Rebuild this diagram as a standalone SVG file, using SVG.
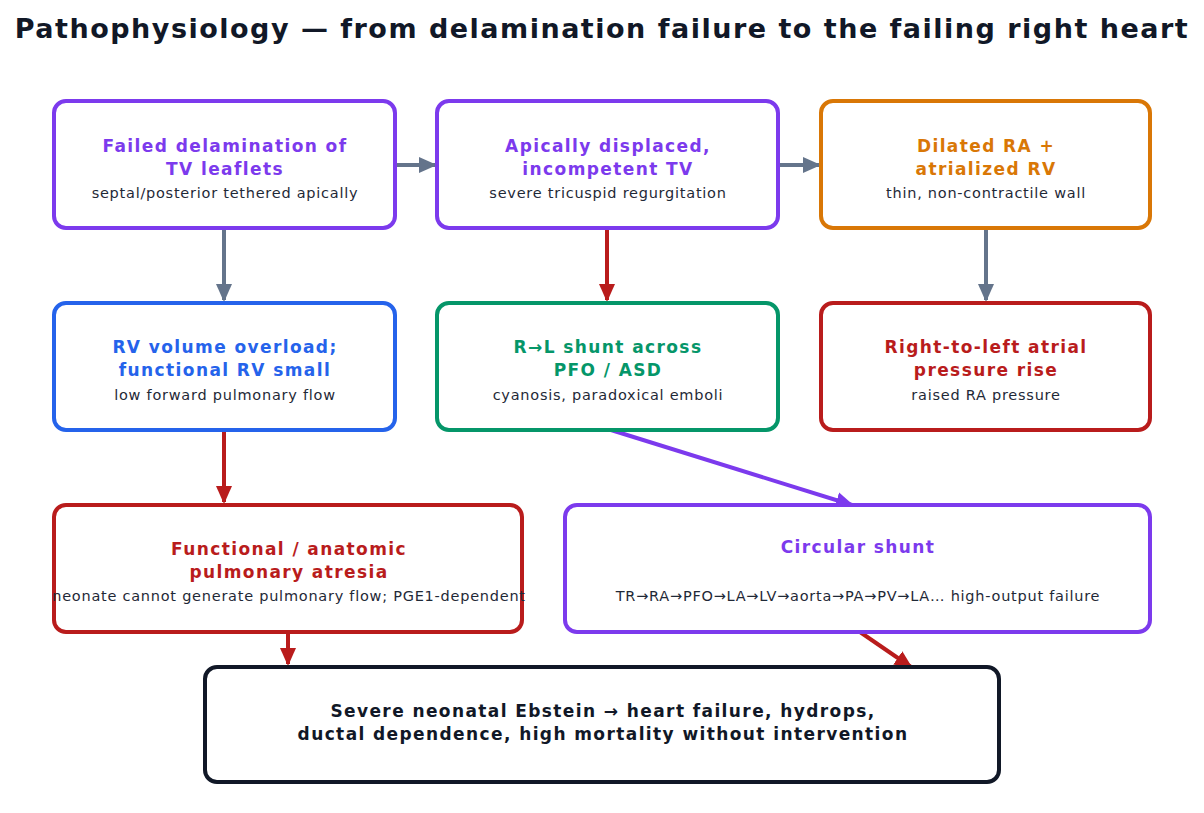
<svg xmlns="http://www.w3.org/2000/svg" width="1204" height="813" viewBox="0 0 1204 813">
  <style>
    .box { fill: #ffffff; stroke-width: 4; }
    .t { font-family: "DejaVu Sans", "Liberation Sans", sans-serif; font-weight: bold; font-size: 17px; letter-spacing: 1.4px; text-anchor: middle; }
    .s { font-family: "DejaVu Sans", "Liberation Sans", sans-serif; font-size: 14.5px; letter-spacing: 0.75px; fill: #1f2937; text-anchor: middle; }
    .title { font-family: "DejaVu Sans", "Liberation Sans", sans-serif; font-weight: bold; font-size: 27px; letter-spacing: 1.5px; fill: #111827; text-anchor: middle; }
    .c { fill: none; stroke-width: 4; }
    .gray { stroke: #64748b; }
    .red { stroke: #b91c1c; }
    .purple { stroke: #7c3aed; }
  </style>
  <defs>
    <marker id="ah-gray" markerUnits="userSpaceOnUse" markerWidth="18" markerHeight="18" refX="16" refY="9" orient="auto">
      <path d="M0,1 L18,9 L0,17 Z" fill="#64748b"/>
    </marker>
    <marker id="ah-red" markerUnits="userSpaceOnUse" markerWidth="18" markerHeight="18" refX="16" refY="9" orient="auto">
      <path d="M0,1 L18,9 L0,17 Z" fill="#b91c1c"/>
    </marker>
    <marker id="ah-purple" markerUnits="userSpaceOnUse" markerWidth="18" markerHeight="18" refX="16" refY="9" orient="auto">
      <path d="M0,1 L18,9 L0,17 Z" fill="#7c3aed"/>
    </marker>
  </defs>

  <rect width="1204" height="813" fill="#ffffff"/>
  <text class="title" x="602" y="38">Pathophysiology — from delamination failure to the failing right heart</text>

  <!-- connectors -->
  <g id="connectors">
    <line class="c gray" x1="397" y1="165" x2="435" y2="165" marker-end="url(#ah-gray)"/>
    <line class="c gray" x1="780" y1="165" x2="819" y2="165" marker-end="url(#ah-gray)"/>
    <line class="c gray" x1="224" y1="230" x2="224" y2="300" marker-end="url(#ah-gray)"/>
    <line class="c red" x1="607" y1="230" x2="607" y2="300" marker-end="url(#ah-red)"/>
    <line class="c gray" x1="986" y1="230" x2="986" y2="300" marker-end="url(#ah-gray)"/>
    <line class="c red" x1="224" y1="432" x2="224" y2="502" marker-end="url(#ah-red)"/>
    <line class="c purple" x1="611" y1="430" x2="852" y2="505" marker-end="url(#ah-purple)"/>
    <line class="c red" x1="288" y1="634" x2="288" y2="664" marker-end="url(#ah-red)"/>
    <line class="c red" x1="860" y1="632" x2="911" y2="667" marker-end="url(#ah-red)"/>
  </g>

  <g id="n-delamination">
    <rect class="box" x="54" y="101" width="341" height="127" rx="12" stroke="#7c3aed"/>
    <text class="t" x="225" y="152" fill="#7c3aed">Failed delamination of</text>
    <text class="t" x="225" y="175" fill="#7c3aed">TV leaflets</text>
    <text class="s" x="225" y="198">septal/posterior tethered apically</text>
  </g>

  <g id="n-displaced-tv">
    <rect class="box" x="437" y="101" width="341" height="127" rx="12" stroke="#7c3aed"/>
    <text class="t" x="608" y="152" fill="#7c3aed">Apically displaced,</text>
    <text class="t" x="608" y="175" fill="#7c3aed">incompetent TV</text>
    <text class="s" x="608" y="198">severe tricuspid regurgitation</text>
  </g>

  <g id="n-dilated-ra">
    <rect class="box" x="821" y="101" width="329" height="127" rx="12" stroke="#d97706"/>
    <text class="t" x="986" y="152" fill="#d97706">Dilated RA +</text>
    <text class="t" x="986" y="175" fill="#d97706">atrialized RV</text>
    <text class="s" x="986" y="198">thin, non-contractile wall</text>
  </g>

  <g id="n-rv-overload">
    <rect class="box" x="54" y="303" width="341" height="127" rx="12" stroke="#2563eb"/>
    <text class="t" x="225" y="353" fill="#2563eb">RV volume overload;</text>
    <text class="t" x="225" y="376" fill="#2563eb">functional RV small</text>
    <text class="s" x="225" y="400">low forward pulmonary flow</text>
  </g>

  <g id="n-rl-shunt">
    <rect class="box" x="437" y="303" width="341" height="127" rx="12" stroke="#059669"/>
    <text class="t" x="608" y="353" fill="#059669">R→L shunt across</text>
    <text class="t" x="608" y="376" fill="#059669">PFO / ASD</text>
    <text class="s" x="608" y="400">cyanosis, paradoxical emboli</text>
  </g>

  <g id="n-atrial-pressure">
    <rect class="box" x="821" y="303" width="329" height="127" rx="12" stroke="#b91c1c"/>
    <text class="t" x="986" y="353" fill="#b91c1c">Right-to-left atrial</text>
    <text class="t" x="986" y="376" fill="#b91c1c">pressure rise</text>
    <text class="s" x="986" y="400">raised RA pressure</text>
  </g>

  <g id="n-pulmonary-atresia">
    <rect class="box" x="54" y="505" width="468" height="127" rx="12" stroke="#b91c1c"/>
    <text class="t" x="289" y="555" fill="#b91c1c">Functional / anatomic</text>
    <text class="t" x="289" y="578" fill="#b91c1c">pulmonary atresia</text>
    <text class="s" x="289" y="601">neonate cannot generate pulmonary flow; PGE1-dependent</text>
  </g>

  <g id="n-circular-shunt">
    <rect class="box" x="565" y="505" width="585" height="127" rx="12" stroke="#7c3aed"/>
    <text class="t" x="858" y="553" fill="#7c3aed">Circular shunt</text>
    <text class="s" x="858" y="601">TR→RA→PFO→LA→LV→aorta→PA→PV→LA… high-output failure</text>
  </g>

  <g id="n-outcome">
    <rect class="box" x="205" y="667" width="794" height="115" rx="12" stroke="#111827"/>
    <text class="t" x="603" y="717" fill="#111827">Severe neonatal Ebstein → heart failure, hydrops,</text>
    <text class="t" x="603" y="740" fill="#111827">ductal dependence, high mortality without intervention</text>
  </g>
</svg>
